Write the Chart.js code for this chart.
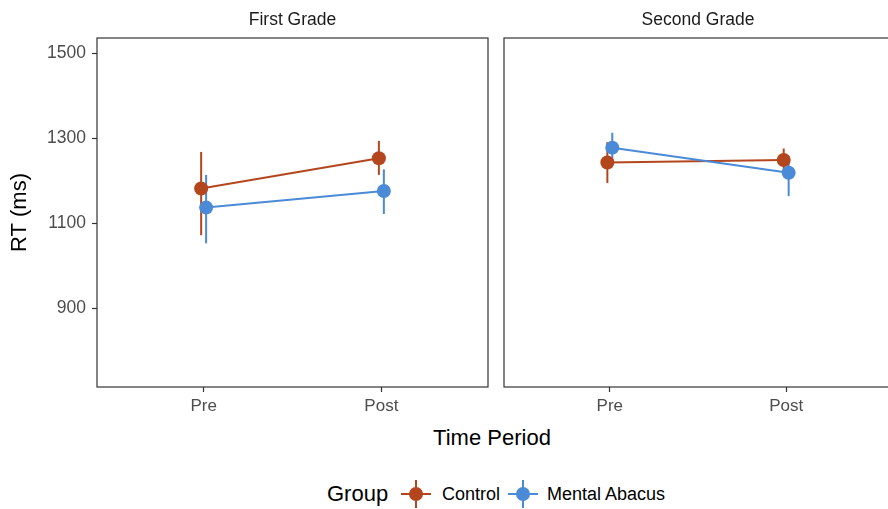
<!DOCTYPE html>
<html>
<head>
<meta charset="utf-8">
<script src="https://cdn.jsdelivr.net/npm/chart.js@4.4.1/dist/chart.umd.min.js"></script>
<style>
  html, body { margin: 0; padding: 0; width: 888px; height: 509px; overflow: hidden; background: #fff; }
  #wrap { position: relative; width: 900px; height: 509px; font-family: "Liberation Sans", Arial, sans-serif; }
  canvas { position: absolute; top: 0; }
  #c1 { left: 0; }
  #c2 { left: 497px; }
  .txt { position: absolute; white-space: nowrap; color: #000; }
  .key { position: absolute; width: 30px; height: 28px; }
  .key .h { position: absolute; left: 0; top: 13px; width: 30px; height: 2px; }
  .key .v { position: absolute; left: 14px; top: 0; width: 2px; height: 28px; }
  .key .dot { position: absolute; left: 8px; top: 7px; width: 14px; height: 14px; border-radius: 50%; }
</style>
</head>
<body>
<div id="wrap">
  <canvas id="c1" width="495" height="425"></canvas>
  <canvas id="c2" width="402" height="425"></canvas>
  <div class="txt" id="xTitle" style="left:392px; width:200px; text-align:center; top:425px; font-size:22px; line-height:26px;"></div>
  <div class="txt" id="legTitle" style="left:327px; top:481px; font-size:22px; line-height:26px;"></div>
  <div class="key" id="key0" style="left:401px; top:480px;"><div class="h"></div><div class="v"></div><div class="dot"></div></div>
  <div class="txt" id="leg0" style="left:442px; top:484px; font-size:18px; line-height:20px;"></div>
  <div class="key" id="key1" style="left:508px; top:480px;"><div class="h"></div><div class="v"></div><div class="dot"></div></div>
  <div class="txt" id="leg1" style="left:547px; top:484px; font-size:18px; line-height:20px;"></div>
</div>
<script>
// ---- data ----
const periods = ['Pre', 'Post'];
const grades = ['First Grade', 'Second Grade'];
const groups = ['Control', 'Mental Abacus'];
const yTicks = [900, 1100, 1300, 1500];

// mean RT (ms) and error-bar ends, per period
const controlFirstMean  = [1182, 1253];
const controlFirstLow   = [1072, 1214];
const controlFirstHigh  = [1268, 1294];
const abacusFirstMean   = [1137, 1176];
const abacusFirstLow    = [1053, 1122];
const abacusFirstHigh   = [1214, 1227];

const controlSecondMean = [1243, 1249];
const controlSecondLow  = [1195, 1222];
const controlSecondHigh = [1291, 1276];
const abacusSecondMean  = [1278, 1219];
const abacusSecondLow   = [1243, 1164];
const abacusSecondHigh  = [1313, 1258];

// ---- styling ----
const FONT = '"Liberation Sans", Arial, sans-serif';
const groupColors = ['#B4461E', '#4A8AD6'];
const DODGE = 0.014;          // small horizontal shift between groups
const Y_MIN = 715, Y_MAX = 1536;

function points(mean, low, high, shift) {
  return mean.map((m, i) => ({ x: i + 1 + shift, y: m, lo: low[i], hi: high[i] }));
}

function seriesFor(means, lows, highs) {
  return groups.map((g, k) => ({
    label: g,
    data: points(means[k], lows[k], highs[k], k === 0 ? -DODGE : DODGE),
    borderColor: groupColors[k],
    backgroundColor: groupColors[k],
    borderWidth: 2,
    pointRadius: 7,
    pointHoverRadius: 7,
    pointBorderWidth: 0,
    tension: 0,
    order: 2 - k
  }));
}

// vertical error bars, drawn beneath lines and points
const errorBars = {
  id: 'errorBars',
  beforeDatasetsDraw(chart) {
    const { ctx, scales: { x, y } } = chart;
    chart.data.datasets.forEach((ds, i) => {
      if (!chart.isDatasetVisible(i)) return;
      ctx.save();
      ctx.strokeStyle = ds.borderColor;
      ctx.lineWidth = 2;
      ds.data.forEach(p => {
        const px = x.getPixelForValue(p.x);
        ctx.beginPath();
        ctx.moveTo(px, y.getPixelForValue(p.lo));
        ctx.lineTo(px, y.getPixelForValue(p.hi));
        ctx.stroke();
      });
      ctx.restore();
    });
  }
};

// panel outline
const panelBox = {
  id: 'panelBox',
  beforeDatasetsDraw(chart) {
    const { ctx, chartArea: a } = chart;
    ctx.save();
    ctx.strokeStyle = '#333333';
    ctx.lineWidth = 1.2;
    ctx.strokeRect(a.left, a.top, a.right - a.left, a.bottom - a.top);
    ctx.restore();
  }
};

const tickGrid = {
  drawOnChartArea: false,
  drawTicks: true,
  tickLength: 5,
  tickWidth: 1.2,
  tickColor: '#333333',
  color: '#333333'
};

function makePanel(canvasId, title, datasets, showY, padding) {
  return new Chart(document.getElementById(canvasId), {
    type: 'line',
    data: { datasets },
    options: {
      responsive: false,
      animation: false,
      devicePixelRatio: 1,
      layout: { padding },
      plugins: {
        legend: { display: false },
        tooltip: { enabled: false },
        title: {
          display: true,
          text: title,
          fullSize: false,
          color: '#1a1a1a',
          font: { family: FONT, size: 17.5, weight: 'normal', lineHeight: '21px' },
          padding: { top: 10, bottom: 7 }
        }
      },
      scales: {
        x: {
          type: 'linear',
          min: 0.4,
          max: 2.6,
          afterBuildTicks: s => { s.ticks = periods.map((p, i) => ({ value: i + 1 })); },
          afterFit: s => { s.height = 38; },
          ticks: {
            color: '#4d4d4d',
            padding: 4,
            font: { family: FONT, size: 17 },
            callback: v => periods[Math.round(v) - 1]
          },
          grid: tickGrid,
          border: { display: false }
        },
        y: {
          type: 'linear',
          display: showY,
          min: Y_MIN,
          max: Y_MAX,
          afterBuildTicks: s => { s.ticks = yTicks.map(v => ({ value: v })); },
          afterFit: s => { if (showY) s.width = 97; },
          ticks: {
            color: '#4d4d4d',
            padding: 6,
            font: { family: FONT, size: 17.5 },
            callback: v => String(v)
          },
          grid: tickGrid,
          border: { display: false },
          title: {
            display: true,
            text: 'RT (ms)',
            color: '#000',
            font: { family: FONT, size: 22 },
            padding: { top: 7, bottom: 0 }
          }
        }
      }
    },
    plugins: [panelBox, errorBars]
  });
}

makePanel('c1', grades[0],
  seriesFor([controlFirstMean, abacusFirstMean], [controlFirstLow, abacusFirstLow], [controlFirstHigh, abacusFirstHigh]),
  true, { left: 0, right: 5, top: 0, bottom: 0 });

makePanel('c2', grades[1],
  seriesFor([controlSecondMean, abacusSecondMean], [controlSecondLow, abacusSecondLow], [controlSecondHigh, abacusSecondHigh]),
  false, { left: 6, right: 3, top: 0, bottom: 0 });

// shared axis title and legend
document.getElementById('xTitle').textContent = 'Time Period';
document.getElementById('legTitle').textContent = 'Group';
groups.forEach((g, k) => {
  document.getElementById('leg' + k).textContent = g;
  document.querySelectorAll('#key' + k + ' div').forEach(d => { d.style.background = groupColors[k]; });
});
</script>
</body>
</html>
